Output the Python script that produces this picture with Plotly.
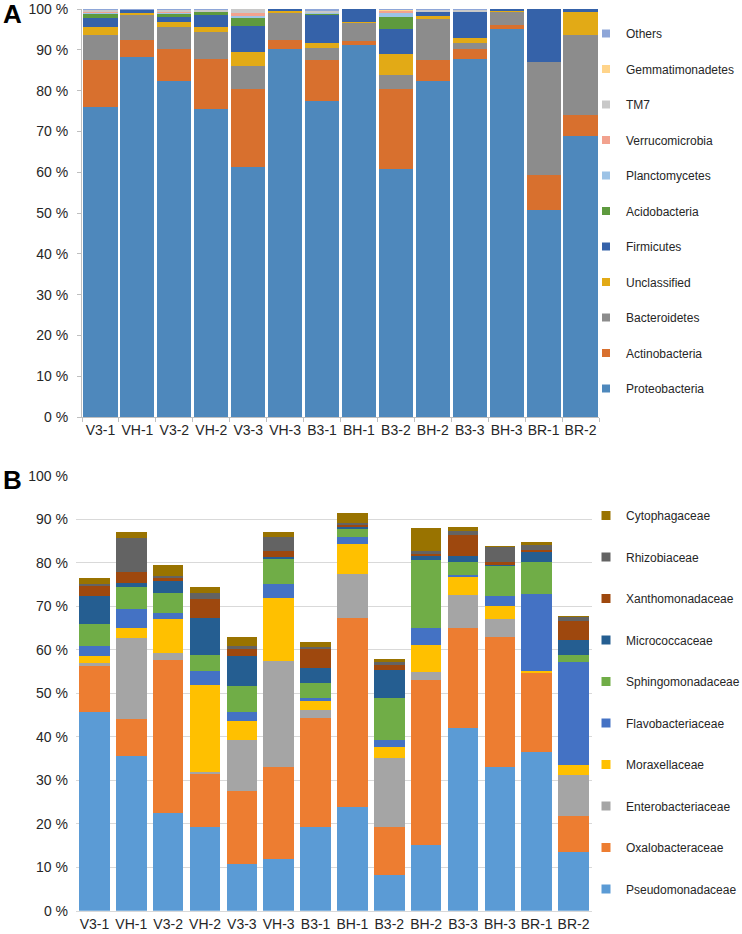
import plotly.graph_objects as go

W, H = 742, 934

samples = ["V3-1", "VH-1", "V3-2", "VH-2", "V3-3", "VH-3", "B3-1", "BH-1",
           "B3-2", "BH-2", "B3-3", "BH-3", "BR-1", "BR-2"]

# ---- Panel A: phyla (% relative abundance) ----
proteobacteria = [75.9, 88.3, 82.3, 75.4, 61.2, 90.3, 77.4, 91.1, 60.9, 82.3, 87.8, 95.2, 50.8, 68.9]
actinobacteria = [11.7, 4.1, 8.0, 12.4, 19.1, 2.1, 10.2, 1.0, 19.4, 5.2, 2.5, 1.0, 8.4, 5.2]
bacteroidetes = [6.0, 6.3, 5.2, 6.6, 5.7, 6.8, 2.9, 4.5, 3.5, 10.1, 1.4, 3.3, 27.8, 19.5]
unclassified = [2.0, 0.2, 1.4, 1.2, 3.5, 0.2, 1.1, 0.3, 5.1, 0.8, 1.2, 0.2, 0.0, 5.7]
firmicutes = [2.1, 1.0, 1.2, 2.9, 6.3, 0.6, 6.9, 3.1, 6.3, 0.9, 6.6, 0.3, 13.0, 0.7]
acidobacteria = [1.1, 0.0, 0.8, 0.8, 2.1, 0.0, 0.5, 0.0, 2.8, 0.1, 0.0, 0.0, 0.0, 0.0]
planctomycetes = [0.2, 0.0, 0.2, 0.0, 0.4, 0.0, 0.2, 0.0, 0.9, 0.0, 0.0, 0.0, 0.0, 0.0]
verrucomicrobia = [0.5, 0.0, 0.2, 0.0, 0.8, 0.0, 0.0, 0.0, 0.7, 0.0, 0.0, 0.0, 0.0, 0.0]
tm7 = [0.3, 0.0, 0.5, 0.5, 0.9, 0.0, 0.3, 0.0, 0.0, 0.4, 0.3, 0.0, 0.0, 0.0]
gemmatimonadetes = [0.1, 0.0, 0.0, 0.0, 0.0, 0.0, 0.0, 0.0, 0.3, 0.0, 0.0, 0.0, 0.0, 0.0]
others = [0.1, 0.1, 0.2, 0.2, 0.0, 0.0, 0.5, 0.0, 0.1, 0.2, 0.2, 0.0, 0.0, 0.0]

phyla_names = ["Proteobacteria", "Actinobacteria", "Bacteroidetes", "Unclassified",
               "Firmicutes", "Acidobacteria", "Planctomycetes", "Verrucomicrobia",
               "TM7", "Gemmatimonadetes", "Others"]
phyla_values = [proteobacteria, actinobacteria, bacteroidetes, unclassified,
                firmicutes, acidobacteria, planctomycetes, verrucomicrobia,
                tm7, gemmatimonadetes, others]
phyla_colors = ["#4E88BC", "#D8702E", "#8C8C8C", "#E2AA16", "#3562A9", "#5E9A3E",
                "#9DC3E6", "#F2A28E", "#C8C8C8", "#FFD48A", "#8EA6D8"]

# ---- Panel B: families (% relative abundance) ----
pseudomonadaceae = [45.7, 35.6, 22.5, 19.3, 10.7, 11.9, 19.3, 23.9, 8.2, 15.1, 41.9, 33.0, 36.4, 13.6]
oxalobacteraceae = [10.8, 8.4, 35.1, 12.3, 16.9, 21.2, 25.1, 43.3, 11.1, 37.9, 23.2, 29.9, 18.4, 8.2]
enterobacteriaceae = [0.4, 18.6, 1.7, 0.4, 11.6, 24.4, 1.7, 10.1, 15.7, 1.9, 7.5, 4.2, 0.0, 9.4]
moraxellaceae = [1.7, 2.3, 7.8, 19.9, 4.4, 14.5, 2.1, 7.1, 2.7, 6.2, 4.0, 2.9, 0.2, 2.3]
flavobacteriaceae = [2.3, 4.4, 1.4, 3.3, 2.1, 3.0, 0.8, 1.6, 1.5, 4.0, 0.6, 2.3, 17.8, 23.6]
sphingomonadaceae = [5.0, 5.0, 4.6, 3.6, 6.0, 5.9, 3.4, 1.9, 9.8, 15.5, 3.0, 7.2, 7.4, 1.7]
micrococcaceae = [6.5, 1.1, 2.7, 8.6, 6.9, 0.5, 3.5, 0.3, 6.3, 0.9, 1.4, 0.2, 2.2, 3.4]
xanthomonadaceae = [2.5, 2.5, 0.6, 4.2, 1.5, 1.3, 4.4, 0.5, 1.2, 0.6, 4.8, 0.4, 0.5, 4.5]
rhizobiaceae = [0.2, 7.8, 0.5, 1.5, 0.8, 3.2, 0.4, 0.5, 0.6, 0.6, 1.0, 3.7, 1.1, 0.9]
cytophagaceae = [1.3, 1.4, 2.6, 1.4, 2.0, 1.2, 1.1, 2.2, 0.8, 5.3, 0.7, 0.1, 0.7, 0.1]

family_names = ["Pseudomonadaceae", "Oxalobacteraceae", "Enterobacteriaceae",
                "Moraxellaceae", "Flavobacteriaceae", "Sphingomonadaceae",
                "Micrococcaceae", "Xanthomonadaceae", "Rhizobiaceae", "Cytophagaceae"]
family_values = [pseudomonadaceae, oxalobacteraceae, enterobacteriaceae, moraxellaceae,
                 flavobacteriaceae, sphingomonadaceae, micrococcaceae, xanthomonadaceae,
                 rhizobiaceae, cytophagaceae]
family_colors = ["#5B9BD5", "#ED7D31", "#A5A5A5", "#FFC000", "#4472C4", "#70AD47",
                 "#255E91", "#9E480E", "#636363", "#997300"]

FONT = "Liberation Sans, Arial, sans-serif"
TXT = "#262626"

fig = go.Figure()

for name, vals, col in zip(phyla_names, phyla_values, phyla_colors):
    fig.add_trace(go.Bar(x=samples, y=vals, name=name, marker=dict(color=col, line_width=0),
                         width=0.925, xaxis="x", yaxis="y", showlegend=False))
for name, vals, col in zip(family_names, family_values, family_colors):
    fig.add_trace(go.Bar(x=samples, y=vals, name=name, marker=dict(color=col, line_width=0),
                         width=0.83, xaxis="x2", yaxis="y2", showlegend=False))

# legend entries (top-to-bottom order as in the reference)
for name, col in reversed(list(zip(phyla_names, phyla_colors))):
    fig.add_trace(go.Scatter(x=[None], y=[None], mode="markers", name=name,
                             marker=dict(symbol="square", size=8, color=col),
                             legendgroup="A_" + name, legend="legend",
                             xaxis="x", yaxis="y"))
for name, col in reversed(list(zip(family_names, family_colors))):
    fig.add_trace(go.Scatter(x=[None], y=[None], mode="markers", name=name,
                             marker=dict(symbol="square", size=9, color=col),
                             legendgroup="B_" + name, legend="legend2",
                             xaxis="x2", yaxis="y2"))

# helpers: convert target pixels to paper fractions
def py(px):
    return 1 - px / H

def pxx(px):
    return px / W

fig.update_layout(
    width=W, height=H,
    margin=dict(l=0, r=0, t=0, b=0, autoexpand=False),
    paper_bgcolor="white", plot_bgcolor="white",
    font=dict(family=FONT, size=14, color=TXT),
    barmode="stack",
    xaxis=dict(domain=[pxx(82), pxx(599)], anchor="y", type="category",
               showline=True, linecolor="#BFBFBF", linewidth=1, tickangle=0,
               ticks="outside", tickson="boundaries", ticklen=4, tickcolor="#BFBFBF",
               tickfont=dict(size=14, color=TXT), showgrid=False, zeroline=False,
               automargin=False),
    yaxis=dict(domain=[py(417), py(9)], anchor="x", range=[0, 100], dtick=10,
               ticksuffix=" %", showline=True, linecolor="#BFBFBF", linewidth=1,
               ticks="outside", ticklen=4, tickcolor="#BFBFBF", showgrid=False,
               zeroline=False, tickfont=dict(size=14, color=TXT),
               ticklabelstandoff=6, ticklabeloverflow="allow", automargin=False),
    xaxis2=dict(domain=[pxx(76), pxx(592)], anchor="y2", type="category",
                showline=True, linecolor="#D9D9D9", linewidth=1, ticks="", tickangle=0,
                tickfont=dict(size=14, color=TXT), showgrid=False, zeroline=False,
                automargin=False),
    yaxis2=dict(domain=[py(910.7), py(475.7)], anchor="x2", range=[0, 100], dtick=10,
                ticksuffix=" %", showline=False, showgrid=True, gridcolor="#D9D9D9",
                gridwidth=1, zeroline=False, ticks="", tickfont=dict(size=14, color=TXT),
                ticklabelstandoff=7, automargin=False),
    legend=dict(x=pxx(586), y=py(19), xanchor="left", yanchor="top",
                traceorder="grouped", tracegroupgap=16.5, itemwidth=30,
                font=dict(size=12, color=TXT), bgcolor="rgba(0,0,0,0)"),
    legend2=dict(x=pxx(586), y=py(501), xanchor="left", yanchor="top",
                 traceorder="grouped", tracegroupgap=22.5, itemwidth=30,
                 font=dict(size=12, color=TXT), bgcolor="rgba(0,0,0,0)"),
    annotations=[
        dict(text="<b>A</b>", x=pxx(12), y=py(14), xref="paper", yref="paper",
             xanchor="center", yanchor="middle", showarrow=False,
             font=dict(size=26, color="#000000", family=FONT)),
        dict(text="<b>B</b>", x=pxx(12), y=py(480), xref="paper", yref="paper",
             xanchor="center", yanchor="middle", showarrow=False,
             font=dict(size=26, color="#000000", family=FONT)),
    ],
)

# remove the page's default body margin so the figure sits at the window origin
fig.write_html("out.html",
               config={"displayModeBar": False},
               post_script="document.body.style.margin='0';document.body.style.padding='0';")
